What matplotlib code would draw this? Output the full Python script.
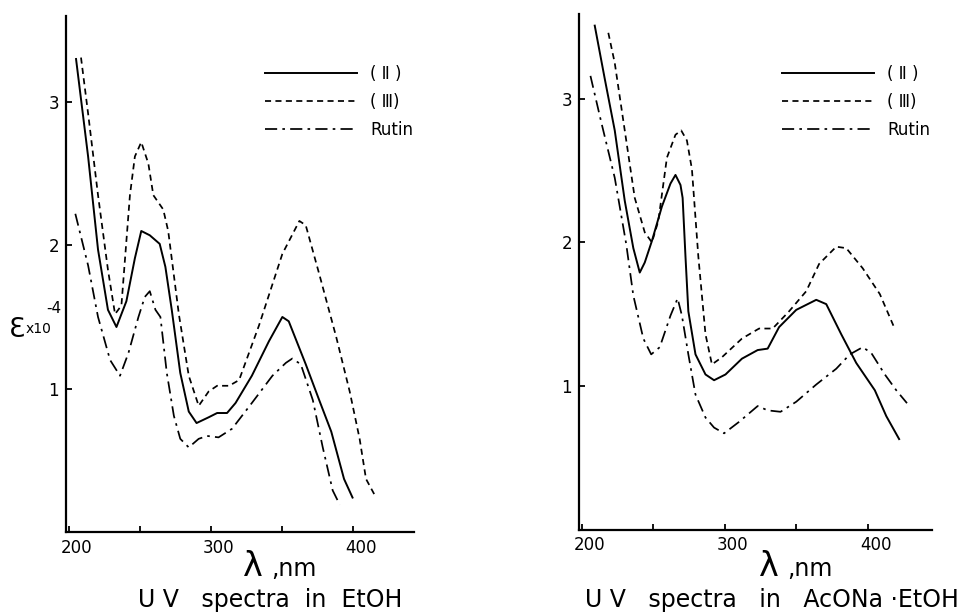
# # UV SPECTRA OF (II), (III) AND RUTIN IN TWO SOLVENTS

import matplotlib
matplotlib.use("Agg")
import matplotlib.pyplot as plt
import matplotlib.transforms as mtransforms

# # DATA

# left panel: EtOH
etoh_II_x = [205, 213.5, 220.5, 227.5, 233.5, 240.5, 246.5, 251, 257, 264, 268, 272.5, 278.5, 284.5,
             290, 298.5, 304.5, 311.5, 317.5, 329, 341, 350.5, 355, 367, 376.5, 385, 394, 400]
etoh_II_y = [3.30, 2.62, 1.97, 1.55, 1.43, 1.61, 1.91, 2.10, 2.07, 2.01, 1.85, 1.55, 1.11, 0.84,
             0.76, 0.80, 0.83, 0.83, 0.90, 1.09, 1.33, 1.50, 1.47, 1.17, 0.92, 0.70, 0.37, 0.24]

etoh_III_x = [208.5, 213.5, 220.5, 227.5, 232.5, 237, 243, 246.5, 251, 256, 259.5, 266.5, 270, 277.5,
              284.5, 291.5, 298.5, 304.5, 313, 320, 334, 350.5, 362.5, 367, 376.5, 388.5, 398, 405,
              409.5, 415.5]
etoh_III_y = [3.31, 2.92, 2.35, 1.83, 1.52, 1.58, 2.35, 2.62, 2.72, 2.57, 2.35, 2.25, 2.10, 1.52,
              1.09, 0.88, 0.98, 1.02, 1.02, 1.06, 1.44, 1.94, 2.17, 2.14, 1.80, 1.36, 0.98, 0.65,
              0.37, 0.26]

etoh_rutin_x = [204.5, 213.5, 220.5, 229, 236, 242, 249, 253.5, 257, 261, 264.5, 269, 274, 278.5,
                284.5, 291.5, 297.5, 305.5, 315, 329, 343.5, 353, 357.5, 363.5, 372, 379, 386, 391]
etoh_rutin_y = [2.22, 1.86, 1.50, 1.20, 1.09, 1.25, 1.50, 1.64, 1.68, 1.55, 1.50, 1.11, 0.81, 0.65,
                0.59, 0.65, 0.67, 0.66, 0.72, 0.90, 1.09, 1.18, 1.21, 1.17, 0.92, 0.59, 0.29, 0.19]

# right panel: AcONa.EtOH
acona_II_x = [209, 216, 223, 230, 236, 240.5, 244, 249, 256, 262, 265.5, 269, 270.5, 272.5, 274.5,
              279.5, 286.5, 292.5, 300.5, 312, 323, 330, 338, 350, 364, 371, 381.5, 392, 405, 413, 422]
acona_II_y = [3.51, 3.14, 2.78, 2.29, 1.96, 1.79, 1.86, 2.01, 2.25, 2.41, 2.47, 2.40, 2.31, 1.90, 1.52,
              1.22, 1.08, 1.04, 1.08, 1.19, 1.25, 1.26, 1.41, 1.53, 1.60, 1.57, 1.36, 1.16, 0.97, 0.79, 0.63]

acona_III_x = [218.5, 223, 230, 237, 244, 249, 253.5, 259.5, 265.5, 269.5, 273.5, 277, 281.5, 286.5,
               291, 298, 312, 324, 333.5, 345, 357, 366, 378, 385, 396.5, 408.5, 418]
acona_III_y = [3.46, 3.25, 2.78, 2.31, 2.07, 2.00, 2.15, 2.59, 2.75, 2.78, 2.71, 2.51, 1.90, 1.36,
               1.15, 1.20, 1.33, 1.40, 1.40, 1.52, 1.66, 1.85, 1.97, 1.96, 1.82, 1.64, 1.42]

acona_rutin_x = [206, 213.5, 223, 231, 236, 243, 248.5, 254.5, 262, 267, 270, 274.5, 279.5, 286.5,
                 292.5, 299.5, 310, 323, 330, 339, 350, 364, 378, 387.5, 396.5, 402.5, 412, 420, 427.5]
acona_rutin_y = [3.16, 2.84, 2.45, 1.99, 1.63, 1.33, 1.22, 1.27, 1.49, 1.61, 1.49, 1.22, 0.94, 0.78,
                 0.71, 0.67, 0.75, 0.86, 0.83, 0.82, 0.89, 1.01, 1.12, 1.22, 1.27, 1.23, 1.08, 0.97, 0.88]

series_labels = ["( Ⅱ )", "( Ⅲ)", "Rutin"]
x_ticks = [200, 300, 400]
x_minor = [250, 350]
y_ticks = [1, 2, 3]

# # LINE STYLES

styles = [
    dict(color="black", lw=1.4, linestyle="-"),
    dict(color="black", lw=1.25, linestyle=(0, (3.5, 2.5))),
    dict(color="black", lw=1.25, linestyle=(0, (7, 3, 1.5, 3))),
]

W, H = 966, 615
fig = plt.figure(figsize=(W / 100, H / 100), dpi=100)
fig.patch.set_facecolor("white")


def draw_panel(rect, xlim, ylim, curves, leg_px):
    ax = fig.add_axes(rect)
    for (xs, ys), st, lab in zip(curves, styles, series_labels):
        ax.plot(xs, ys, label=lab, **st)
    ax.set_xlim(*xlim)
    ax.set_ylim(*ylim)
    for side in ["top", "right"]:
        ax.spines[side].set_visible(False)
    for side in ["left", "bottom"]:
        ax.spines[side].set_linewidth(1.6)
    ax.set_xticks(x_ticks)
    ax.set_xticks(x_minor, minor=True)
    ax.set_yticks(y_ticks)
    ax.set_yticklabels([str(v) for v in y_ticks])
    ax.tick_params(axis="both", which="both", direction="in", length=4, width=1.3,
                   labelsize=12, pad=5)
    # labels in the original sit a little right of their ticks
    shift = mtransforms.ScaledTranslation(8 / 100, 0, fig.dpi_scale_trans)
    for lab in ax.get_xticklabels():
        lab.set_transform(lab.get_transform() + shift)
    ax.legend(loc="upper left", bbox_to_anchor=(leg_px[0] / W, 1 - leg_px[1] / H),
              bbox_transform=fig.transFigure, frameon=False,
              handlelength=5.5, handletextpad=0.8, labelspacing=0.6,
              borderpad=0, borderaxespad=0, fontsize=12)
    return ax


ax1 = draw_panel([0.0683, 0.135, 0.3602, 0.839], (197.9, 443.3), (0, 3.60),
                 [(etoh_II_x, etoh_II_y), (etoh_III_x, etoh_III_y), (etoh_rutin_x, etoh_rutin_y)],
                 (265, 65))
ax2 = draw_panel([0.5994, 0.139, 0.3654, 0.838], (198.0, 445.0), (0, 3.59),
                 [(acona_II_x, acona_II_y), (acona_III_x, acona_III_y), (acona_rutin_x, acona_rutin_y)],
                 (782, 65))

# # AXIS LABELS AND TITLES (figure pixel positions)


def ftext(px, py, s, **kw):
    fig.text(px / W, 1 - py / H, s, **kw)


# y label: epsilon x 10^-4
ftext(9, 337, "Ɛ", fontsize=19, va="baseline", ha="left")
ftext(26, 333, "x10", fontsize=10, va="baseline", ha="left")
ftext(46, 313, "-4", fontsize=11, va="baseline", ha="left")

# x labels
for cx in [279, 795]:
    ftext(cx - 36, 576, "λ", fontsize=24, va="baseline", ha="left")
    ftext(cx - 8, 576, ",nm", fontsize=17, va="baseline", ha="left")

ftext(270, 607, "U V   spectra  in  EtOH", fontsize=17, ha="center", va="baseline")
ftext(772, 607, "U V   spectra   in   AcONa ·EtOH", fontsize=17, ha="center", va="baseline")

plt.savefig("out.png", dpi=100, facecolor="white")
plt.close()
